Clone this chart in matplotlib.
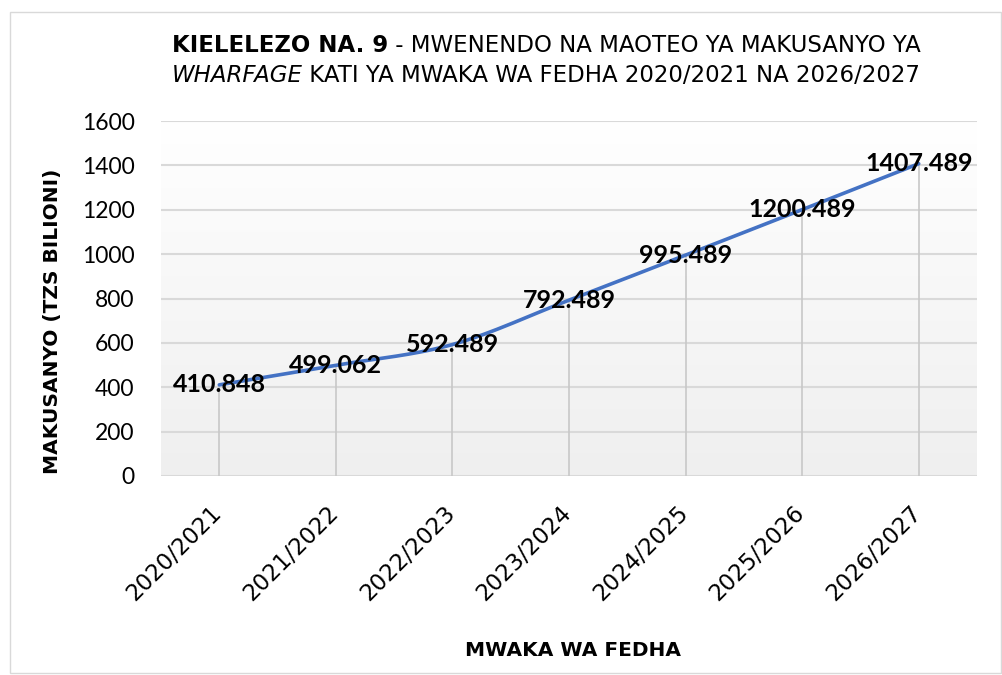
import numpy as np
import matplotlib
matplotlib.use("Agg")
import matplotlib.pyplot as plt
from matplotlib.patches import Rectangle
from matplotlib.transforms import ScaledTranslation

categories = ["2020/2021", "2021/2022", "2022/2023", "2023/2024", "2024/2025", "2025/2026", "2026/2027"]
values = [410.848, 499.062, 592.489, 792.489, 995.489, 1200.489, 1407.489]
label_texts = ["410.848", "499.062", "592.489", "792.489", "995.489", "1200.489", "1407.489"]
yticks = [0, 200, 400, 600, 800, 1000, 1200, 1400, 1600]

plt.rcParams['font.family'] = ['Lato', 'DejaVu Sans']
WIDE = ['DejaVu Sans']

W, H = 1003, 675
fig = plt.figure(figsize=(W/100, H/100), dpi=100)
ax = fig.add_axes([161/W, 1-476/H, (977-161)/W, (476-121)/H])

x = np.arange(len(categories))
ax.set_xlim(-0.5, len(categories)-0.5)
ax.set_ylim(0, 1600)

# gradient background
grad = np.linspace(0, 1, 256).reshape(-1, 1)
ax.imshow(grad, extent=(-0.5, len(categories)-0.5, 0, 1600), aspect='auto',
          cmap=matplotlib.colors.LinearSegmentedColormap.from_list('g', ['#efefef', '#ffffff']),
          origin='lower', zorder=0)

for t in yticks:
    ax.axhline(t, color='#d9d9d9', lw=1.5, zorder=1)

# drop lines
ax.vlines(x, 0, values, color='#c8c8c8', lw=1.2, zorder=2)

# smoothed line (Catmull-Rom rendering between data points)
def catmull(xs, ys, n=30):
    px = np.concatenate([[2*xs[0]-xs[1]], xs, [2*xs[-1]-xs[-2]]])
    py = np.concatenate([[2*ys[0]-ys[1]], ys, [2*ys[-1]-ys[-2]]])
    ox, oy = [], []
    t = np.linspace(0, 1, n)
    for i in range(1, len(px)-2):
        p0, p1, p2, p3 = [np.array([px[j], py[j]]) for j in (i-1, i, i+1, i+2)]
        c1 = p1 + (p2 - p0)/6
        c2 = p2 - (p3 - p1)/6
        for tt in t:
            b = ((1-tt)**3)*p1 + 3*((1-tt)**2)*tt*c1 + 3*(1-tt)*tt**2*c2 + tt**3*p2
            ox.append(b[0]); oy.append(b[1])
    return np.array(ox), np.array(oy)

sx, sy = catmull(x.astype(float), np.array(values, dtype=float))
ax.plot(sx, sy, color='#4472C4', lw=2.6, zorder=3, solid_capstyle='round')

for xi, v, lab in zip(x, values, label_texts):
    ax.text(xi, v, lab, ha='center', va='center', fontsize=18, fontweight='bold',
            color='black', zorder=4)

for s in ax.spines.values():
    s.set_visible(False)
ax.set_xticks(x)
ax.set_yticks(yticks)
ax.tick_params(axis='both', length=0, colors='black')
ax.tick_params(axis='x', pad=14)
ax.tick_params(axis='y', pad=19)
ax.set_xticklabels(categories, rotation=45, ha='right', rotation_mode='anchor', fontsize=16.5,
                   family=WIDE)
ax.set_yticklabels([str(t) for t in yticks], fontsize=16.5)
off = ScaledTranslation(-9/100, -6/100, fig.dpi_scale_trans)
for lbl in ax.get_xticklabels():
    lbl.set_transform(lbl.get_transform() + off)

fig.text(53/W, 1-(321/H), "MAKUSANYO (TZS BILIONI)", rotation=90, ha='center', va='center',
         fontsize=14.5, fontweight='bold', family=WIDE)
fig.text(573/W, 1-650/H, "MWAKA WA FEDHA", ha='center', va='center', fontsize=14.5,
         fontweight='bold', family=WIDE)

# title with mixed styles
def mixed_line(parts, cx, cy, size=16.5):
    renderer = fig.canvas.get_renderer()
    texts = []
    total = 0
    for s, kw in parts:
        t = fig.text(0, cy, s, ha='left', va='center', fontsize=size, family=WIDE, **kw)
        bb = t.get_window_extent(renderer)
        texts.append((t, bb.width))
        total += bb.width
    start = cx*W - total/2
    for t, w in texts:
        t.set_x(start/W)
        start += w

mixed_line([("KIELELEZO NA. 9", dict(fontweight='bold')),
            (" - MWENENDO NA MAOTEO YA MAKUSANYO YA", dict())], 546/W, 1-45/H)
mixed_line([("WHARFAGE", dict(style='italic')),
            (" KATI YA MWAKA WA FEDHA 2020/2021 NA 2026/2027", dict())], 546/W, 1-76/H)

fig.patches.append(Rectangle((10/W, 2/H), (W-12)/W, (H-14)/H, transform=fig.transFigure,
                             fill=False, edgecolor='#d9d9d9', lw=1))

fig.savefig("out.png", dpi=100)
